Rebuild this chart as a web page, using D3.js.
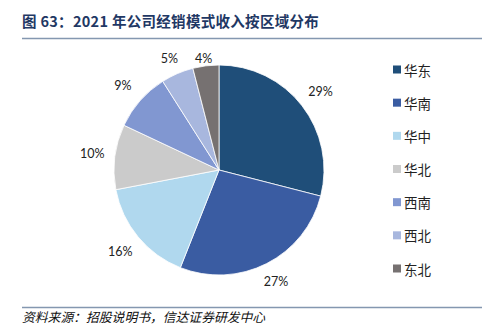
<!DOCTYPE html>
<html><head><meta charset="utf-8">
<script src="https://cdn.jsdelivr.net/npm/d3@7"></script>
<style>body{margin:0;background:#fff;} svg{display:block;}</style>
</head><body>
<svg id="c" width="488" height="336"></svg>
<script>
const categories = ["华东","华南","华中","华北","西南","西北","东北"];
const values = [29, 27, 16, 10, 9, 5, 4];
const colors = ["#1f4e79","#3a5ca2","#b0d8ee","#cbcbcb","#8197d1","#a8b7de","#767171"];
const title = "图 63：2021 年公司经销模式收入按区域分布";
const source = "资料来源：招股说明书，信达证券研发中心";

const svg = d3.select("#c");
const cjk = "'Noto Sans CJK SC', 'Noto Sans', sans-serif";

svg.append("text").attr("x",22).attr("y",26.5)
  .attr("font-family",cjk).attr("font-weight","bold").attr("font-size",14.5)
  .attr("letter-spacing",0.3)
  .attr("fill","#1f3864").text(title);
svg.append("line").attr("x1",22).attr("x2",482).attr("y1",38.5).attr("y2",38.5)
  .attr("stroke","#8497b0").attr("stroke-width",1.3);

svg.append("line").attr("x1",22).attr("x2",482).attr("y1",307.5).attr("y2",307.5)
  .attr("stroke","#8497b0").attr("stroke-width",1.3);
svg.append("text").attr("x",22).attr("y",322)
  .attr("font-family",cjk).attr("font-style","italic").attr("font-size",12.8)
  .attr("fill","#111").text(source);

const cx = 219, cy = 170, r = 105;
const pie = d3.pie().sort(null).value(d=>d)(values);
const arc = d3.arc().innerRadius(0).outerRadius(r);
const g = svg.append("g").attr("transform",`translate(${cx},${cy})`);
g.selectAll("path").data(pie).join("path")
  .attr("d",arc).attr("fill",(d,i)=>colors[i])
  .attr("stroke","#fff").attr("stroke-width",0.8);

// label placement: outside end, clamped to plot area top
function labelPos(d){
  const a = (d.startAngle + d.endAngle)/2;
  const s = Math.sin(a), c = -Math.cos(a);
  const dist = r + 8 + Math.abs(s)*14 + Math.abs(c)*7;
  let x = s*dist, y = c*dist;
  y = Math.max(y, -111.5);
  return [x, y];
}
g.selectAll("text").data(pie).join("text")
  .attr("transform",d=>`translate(${labelPos(d)})`)
  .attr("text-anchor","middle").attr("dominant-baseline","central")
  .attr("font-family","Lato, 'Open Sans', sans-serif").attr("font-size",12.5)
  .attr("fill","#222").text(d=>d.data+"%");

const ly = d3.scalePoint().domain(categories).range([69.5,268.5]);
const lg = svg.append("g");
lg.selectAll("rect").data(categories).join("rect")
  .attr("x",393).attr("y",d=>ly(d)-4).attr("width",8).attr("height",8)
  .attr("fill",(d,i)=>colors[i]);
lg.selectAll("text").data(categories).join("text")
  .attr("x",404).attr("y",d=>ly(d)).attr("dominant-baseline","central")
  .attr("font-family",cjk).attr("font-size",13.5).attr("fill","#222").text(d=>d);
</script>
</body></html>
